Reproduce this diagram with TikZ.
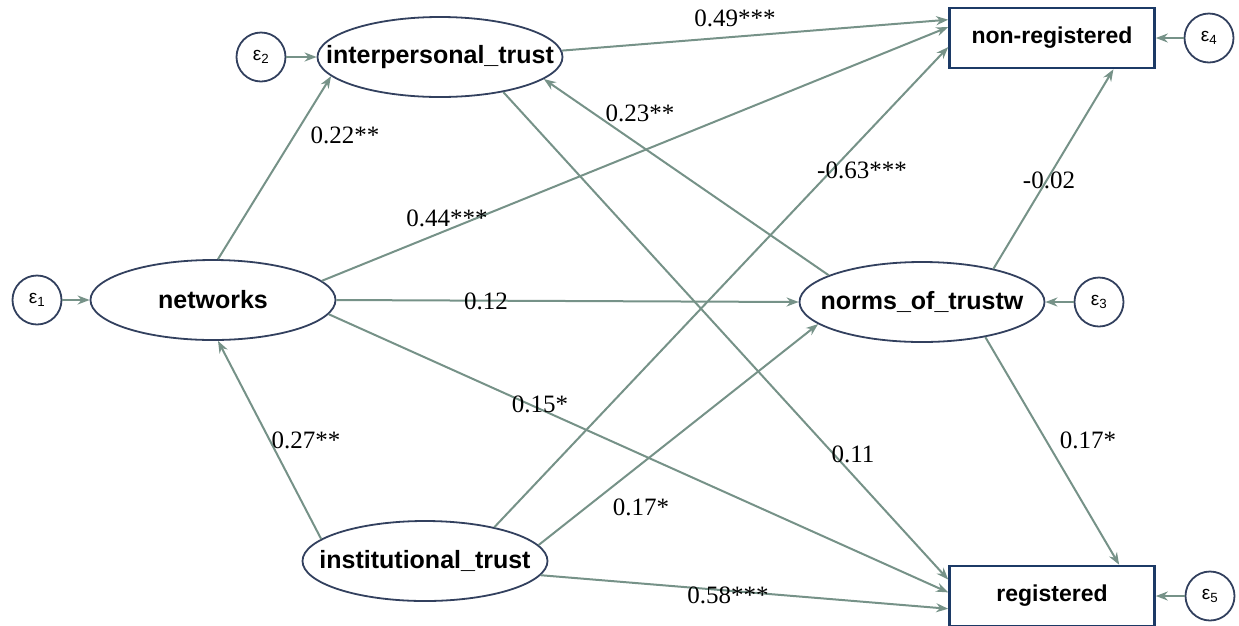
\documentclass[tikz,border=0pt]{standalone}
\usepackage{fontspec}
\setmainfont{Liberation Serif}
\newfontfamily\semfont{Liberation Sans}
\usetikzlibrary{arrows.meta,shapes.geometric}
\definecolor{pathgreen}{RGB}{118,146,136}
\definecolor{nodeblue}{RGB}{50,64,94}
\definecolor{boxblue}{RGB}{28,58,102}

\begin{document}
\begin{tikzpicture}[x=1pt,y=-1pt,>={Stealth[length=12pt,width=9pt]},
  sempath/.style={every edge/.style={draw=pathgreen,line width=2pt,->}},
  latent/.style={ellipse,draw=nodeblue,line width=1.8pt,fill=white,
    minimum width=245pt,minimum height=80pt,inner xsep=-60pt,inner ysep=0pt,
    font=\semfont\bfseries\fontsize{25}{30}\selectfont},
  observed/.style={rectangle,draw=boxblue,line width=2.6pt,fill=white,
    minimum width=205pt,minimum height=60pt,inner sep=0pt,
    font=\semfont\bfseries\fontsize{23}{28}\selectfont},
  errnode/.style={circle,draw=nodeblue,line width=1.8pt,fill=white,
    minimum size=49pt,inner sep=0pt,font=\semfont\fontsize{19}{22}\selectfont},
  coef/.style={inner sep=0pt,font=\fontsize{25}{30}\selectfont}]

  \useasboundingbox (0,0) rectangle (1239,625);

  % latent and observed variables
  \node[latent] (net) at (213,300) {networks};
  \node[latent] (interp) at (440,57) {interpersonal\_trust};
  \node[latent] (norms) at (922,302) {norms\_of\_trustw};
  \node[latent] (inst) at (425,561) {institutional\_trust};
  \node[observed] (nonreg) at (1052,38) {non-registered};
  \node[observed] (reg) at (1052,596) {registered};

  % error terms
  \node[errnode] (e1) at (37,300) {ε\textsubscript{1}};
  \node[errnode] (e2) at (261,57) {ε\textsubscript{2}};
  \node[errnode] (e3) at (1099,302) {ε\textsubscript{3}};
  \node[errnode] (e4) at (1209,38) {ε\textsubscript{4}};
  \node[errnode] (e5) at (1210,596) {ε\textsubscript{5}};

  \path[sempath]
    (e1) edge (net.west)
    (e2) edge (interp.west)
    (e3) edge (norms.east)
    (e4) edge (nonreg.east)
    (e5) edge (reg.east)
    (net.83) edge (interp.190)
    (inst.168) edge (net.277)
    (interp.3) edge (nonreg.170)
    (net.10) edge (nonreg.174)
    (inst.26) edge (nonreg.185)
    (norms.25) edge (nonreg.333)
    (norms.164) edge (interp.348)
    (net.east) edge (norms.west)
    (net.353) edge (reg.178)
    (interp.331) edge (reg.171)
    (inst.8) edge (norms.192)
    (norms.331) edge (reg.25)
    (inst.353) edge (reg.187);

  % path coefficients
  \node[coef] (c1) at (735,18) {0.49***};
  \node[coef] (c2) at (640,113) {0.23**};
  \node[coef] (c3) at (345,135) {0.22**};
  \node[coef] (c4) at (862,170) {-0.63***};
  \node[coef] (c5) at (1049,180) {-0.02};
  \node[coef] (c6) at (447,218) {0.44***};
  \node[coef] (c7) at (486,301) {0.12};
  \node[coef] (c8) at (540,404) {0.15*};
  \node[coef] (c9) at (306,440) {0.27**};
  \node[coef] (c10) at (853,454) {0.11};
  \node[coef] (c11) at (1088,440) {0.17*};
  \node[coef] (c12) at (641,507) {0.17*};
  \node[coef] (c13) at (728,595) {0.58***};

\end{tikzpicture}
\end{document}
